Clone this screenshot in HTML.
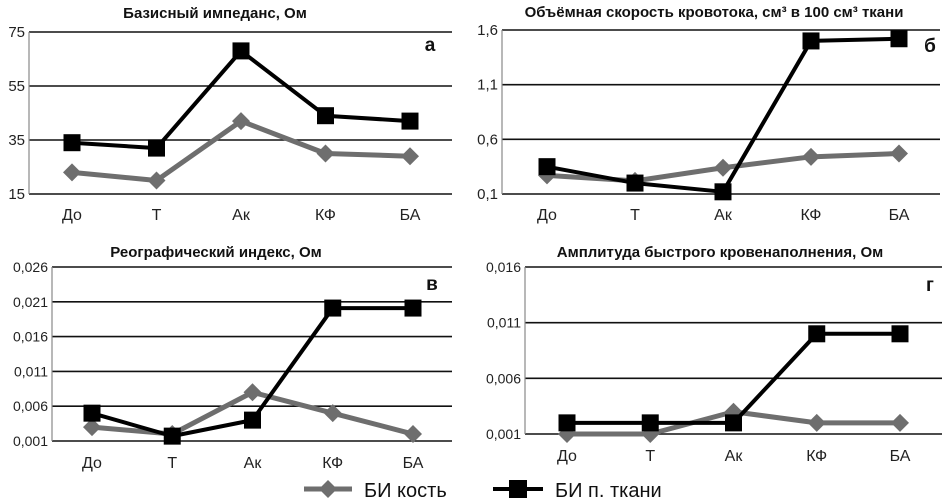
<!DOCTYPE html>
<html><head><meta charset="utf-8">
<style>
body{margin:0;background:#fff;width:945px;height:502px;overflow:hidden}
svg{display:block;font-family:"Liberation Sans","DejaVu Sans",sans-serif}
</style></head>
<body>
<svg id="c" width="945" height="502"></svg>
<script>
const categories = ["До","Т","Ак","КФ","БА"];
const aTicks = ["75","55","35","15"];
const aBone = [23,20,42,30,29];
const aSoft = [34,32,68,44,42];
const bTicks = ["1,6","1,1","0,6","0,1"];
const bBone = [0.27,0.22,0.34,0.44,0.47];
const bSoft = [0.35,0.2,0.12,1.5,1.52];
const cTicks = ["0,026","0,021","0,016","0,011","0,006","0,001"];
const cBone = [0.003,0.002,0.008,0.005,0.002];
const cSoft = [0.005,0.0017,0.004,0.0201,0.0201];
const dTicks = ["0,016","0,011","0,006","0,001"];
const dBone = [0.001,0.001,0.003,0.002,0.002];
const dSoft = [0.002,0.002,0.002,0.01,0.01];

const NS="http://www.w3.org/2000/svg";
const svg=document.getElementById('c');
function el(t,a,p){const e=document.createElementNS(NS,t);for(const k in a)e.setAttribute(k,a[k]);(p||svg).appendChild(e);return e;}
function num(s){return parseFloat(s.replace(',','.'));}

const panels=[
 {id:'a',title:'Базисный импеданс, Ом',tx:215,ty:18,letter:'а',lx:430,ly:51,ticks:aTicks,bone:aBone,soft:aSoft,x0:29,x1:452,y0:32,y1:194,cx0:72,cx1:410,labY:220,tf:14},
 {id:'b',title:'Объёмная скорость кровотока, см³ в 100 см³ ткани',tx:714,ty:17,letter:'б',lx:930,ly:52,ticks:bTicks,bone:bBone,soft:bSoft,x0:502,x1:940,y0:30,y1:194,cx0:547,cx1:899,labY:220,tf:14},
 {id:'c',title:'Реографический индекс, Ом',tx:216,ty:257,letter:'в',lx:432,ly:290,ticks:cTicks,bone:cBone,soft:cSoft,x0:52,x1:452,y0:267,y1:441,cx0:92,cx1:413,labY:468,tf:13},
 {id:'d',title:'Амплитуда быстрого кровенаполнения, Ом',tx:720,ty:257,letter:'г',lx:930,ly:291,ticks:dTicks,bone:dBone,soft:dSoft,x0:525,x1:942,y0:267,y1:434,cx0:567,cx1:900,labY:461,tf:13}
];

panels.forEach(p=>{
  const g=el('g',{});
  
  
  const vmax=num(p.ticks[0]), vmin=num(p.ticks[p.ticks.length-1]);
  const ys=v=>p.y1-(v-vmin)/(vmax-vmin)*(p.y1-p.y0);
  const xs=i=>p.cx0+i*(p.cx1-p.cx0)/(categories.length-1);
  const t=el('text',{x:p.tx,y:p.ty,'text-anchor':'middle','font-size':'15','font-weight':'bold',fill:'#111'},g);
  t.textContent=p.title;
  
  
  p.ticks.forEach(s=>{
    const v=num(s), y=ys(v);
    const l=el('line',{x1:p.x0,x2:p.x1,y1:y,y2:y,stroke:'#111','stroke-width':'1.6'},g);
    
    
    const tt=el('text',{x:p.x0-4,y:y+5,'text-anchor':'end','font-size':p.tf+1,fill:'#222'},g);
    tt.textContent=s;
    
    
  });
  const ax=el('line',{x1:p.x0,x2:p.x0,y1:p.y0,y2:p.y1,stroke:'#888','stroke-width':'1.2'},g);
  
  
  categories.forEach((c,i)=>{
    const tt=el('text',{x:xs(i),y:p.labY,'text-anchor':'middle','font-size':'16',fill:'#222'},g);
    tt.textContent=c;
    
    
  });
  const lt=el('text',{x:p.lx,y:p.ly,'text-anchor':'middle','font-size':'19','font-weight':'bold',fill:'#111'},g);
  lt.textContent=p.letter;
  
  
  const bp=p.bone.map((v,i)=>xs(i)+','+ys(v)).join(' ');
  const bl=el('polyline',{points:bp,fill:'none',stroke:'#6e6e6e','stroke-width':'5','stroke-linejoin':'round'},g);
  
  
  p.bone.forEach((v,i)=>{
    const x=xs(i),y=ys(v);
    const m=el('polygon',{points:`${x},${y-9} ${x+9},${y} ${x},${y+9} ${x-9},${y}`,fill:'#6e6e6e'},g);
    
    
  });
  const sp=p.soft.map((v,i)=>xs(i)+','+ys(v)).join(' ');
  const sl=el('polyline',{points:sp,fill:'none',stroke:'#000','stroke-width':'4','stroke-linejoin':'round'},g);
  
  
  p.soft.forEach((v,i)=>{
    const x=xs(i),y=ys(v);
    const m=el('rect',{x:x-8.5,y:y-8.5,width:17,height:17,fill:'#000'},g);
    
    
  });
});

const lg=el('g',{});


const e1=el('g',{},lg);


el('line',{x1:304,x2:352,y1:489,y2:489,stroke:'#6e6e6e','stroke-width':'5'},e1);
el('polygon',{points:'328,480 337,489 328,498 319,489',fill:'#6e6e6e'},e1);
const l1=el('text',{x:364,y:497,'font-size':'20',fill:'#111'},e1);l1.textContent='БИ кость';
const e2=el('g',{},lg);


el('line',{x1:493,x2:543,y1:489,y2:489,stroke:'#000','stroke-width':'4'},e2);
el('rect',{x:509,y:480,width:18,height:18,fill:'#000'},e2);
const l2=el('text',{x:555,y:497,'font-size':'20',fill:'#111'},e2);l2.textContent='БИ п. ткани';
</script>
</body></html>
